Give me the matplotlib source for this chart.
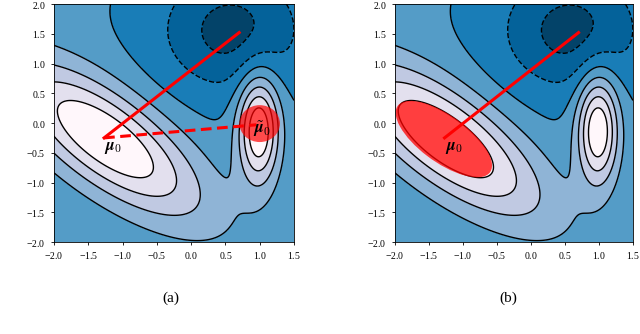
import numpy as np
import matplotlib
matplotlib.use("Agg")
import matplotlib.pyplot as plt
from matplotlib.patches import Ellipse

plt.rcParams["mathtext.fontset"] = "cm"
plt.rcParams["font.family"] = "serif"
plt.rcParams["font.serif"] = ["Liberation Serif", "DejaVu Serif"]
plt.rcParams["axes.formatter.use_mathtext"] = True

# bumps of the surface: (amplitude, mean x, mean y, sigma major, sigma minor, angle deg)
bump_amp = [1.0, 1.0, -0.50]
bump_mx = [-1.25, 0.985, 0.58]
bump_my = [-0.27, -0.10, 1.56]
bump_s1 = [1.26, 0.65, 0.72]
bump_s2 = [0.50, 0.21, 0.72]
bump_ang = [-42.0, 90.0, 0.0]
offset = 0.02

levels = [-0.6, -0.4, -0.2, 0.0, 0.2, 0.4, 0.6, 0.8, 1.2]

mu0 = (-1.27, -0.25)
target = (0.7, 1.52)
mu_tilde = (0.95, -0.03)

x = np.linspace(-2.0, 1.5, 400)
y = np.linspace(-2.0, 2.0, 400)
X, Y = np.meshgrid(x, y)
Z = np.full_like(X, offset)
for a, mx, my, s1, s2, ang in zip(bump_amp, bump_mx, bump_my, bump_s1, bump_s2, bump_ang):
    t = np.deg2rad(ang)
    u = (X - mx) * np.cos(t) + (Y - my) * np.sin(t)
    v = -(X - mx) * np.sin(t) + (Y - my) * np.cos(t)
    Z += a * np.exp(-0.5 * ((u / s1) ** 2 + (v / s2) ** 2))

fig = plt.figure(figsize=(6.4, 3.34), dpi=100)
ax1 = fig.add_axes([0.0844, 0.2754, 0.375, 0.7126])
ax2 = fig.add_axes([0.617, 0.2754, 0.372, 0.7126])

for ax in (ax1, ax2):
    ax.contourf(X, Y, Z, levels=levels, cmap="PuBu_r", vmin=-0.56, vmax=0.95)
    ax.contour(X, Y, Z, levels=levels[1:-1], colors="k", linewidths=1.0)
    ax.set_xlim(-2.0, 1.5)
    ax.set_ylim(-2.0, 2.0)
    ax.set_xticks(np.arange(-2.0, 1.51, 0.5))
    ax.set_yticks(np.arange(-2.0, 2.01, 0.5))
    ax.tick_params(labelsize=7, length=2.5, width=0.6)
    for s in ax.spines.values():
        s.set_linewidth(0.6)
    ax.plot([mu0[0], target[0]], [mu0[1], target[1]], color="red", lw=2.2, zorder=5)

# (a)
ax1.add_patch(Ellipse((1.0, -0.01), 0.59, 0.62, color="red", alpha=0.7, lw=0, zorder=4))
ax1.plot([mu0[0], mu_tilde[0]], [mu0[1], mu_tilde[1]], color="red", lw=2.2,
         ls=(0, (3.5, 1.8)), zorder=5)
ax1.text(-1.27, -0.45, r"$\boldsymbol{\mu}_0$", fontsize=12, zorder=6)
ax1.text(0.9, -0.16, r"$\tilde{\boldsymbol{\mu}}_0$", fontsize=12, zorder=6)

# (b)
ax2.add_patch(Ellipse((-1.28, -0.27), 1.76, 0.75, angle=-41, color="red",
                      alpha=0.75, lw=0, zorder=2))
ax2.text(-1.27, -0.45, r"$\boldsymbol{\mu}_0$", fontsize=12, zorder=6)

fig.text(0.267, 0.108, "(a)", ha="center", va="center", fontsize=11)
fig.text(0.795, 0.108, "(b)", ha="center", va="center", fontsize=11)

fig.savefig("out.png", dpi=100)
